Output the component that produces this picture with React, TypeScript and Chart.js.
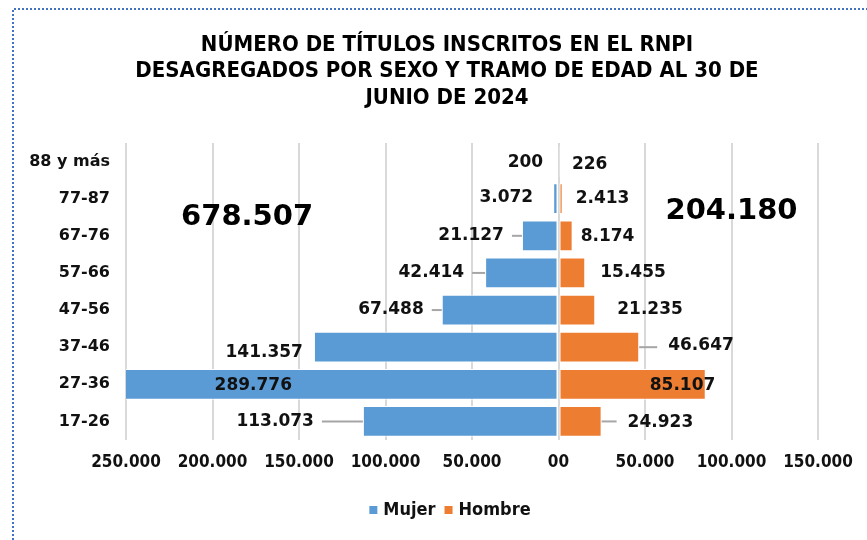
import React, { useEffect, useRef } from "react";
import { Chart, registerables } from "chart.js";

Chart.register(...registerables);

// ---- Data ----
const ageGroups = ["88 y más", "77-87", "67-76", "57-66", "47-56", "37-46", "27-36", "17-26"];
const mujer = [200, 3072, 21127, 42414, 67488, 141357, 289776, 113073];
const hombre = [226, 2413, 8174, 15455, 21235, 46647, 85107, 24923];
const seriesNames = ["Mujer", "Hombre"];
const titleLines = [
  "NÚMERO DE TÍTULOS INSCRITOS EN EL RNPI",
  "DESAGREGADOS POR SEXO Y TRAMO DE EDAD AL 30 DE",
  "JUNIO DE 2024",
];
const xMin = -250000;
const xMax = 150000;
const xStep = 50000;

// ---- Label styling (pixel gaps between bar end and label, vertical nudges, leader lines) ----
const mujerLabelGap = [15, 20, 18, 21, 18, 11, -166, 49];
const mujerLabelDy = [1, -1, 0, 0, 0, 5, 1, 0];
const mujerLeader = [false, false, true, true, true, false, false, true];
const hombreLabelGap = [13, 13, 8, 15, 22, 29, -56, 26];
const hombreLabelDy = [3, 0, 1, 0, 0, -2, 1, 1];
const hombreLeader = [false, false, false, false, false, true, false, true];

const BLUE = "#5B9BD5";
const ORANGE = "#ED7D31";
const COND = "'DejaVu Sans Condensed', 'DejaVu Sans', sans-serif";
const WIDE = "'DejaVu Sans', Verdana, sans-serif";

const fmt = (n: number) => {
  const a = Math.round(Math.abs(n));
  if (a === 0) return "00";
  return String(a).replace(/\B(?=(\d{3})+(?!\d))/g, ".");
};

const sum = (arr: number[]) => arr.reduce((s, v) => s + v, 0);

const framePlugin = {
  id: "frame",
  beforeDraw(chart: any) {
    const ctx = chart.ctx;
    ctx.save();
    // dotted border
    ctx.strokeStyle = "#4472C4";
    ctx.lineWidth = 2;
    ctx.setLineDash([2, 2]);
    ctx.beginPath();
    ctx.moveTo(13, chart.height);
    ctx.lineTo(13, 9);
    ctx.lineTo(chart.width, 9);
    ctx.stroke();
    ctx.setLineDash([]);

    // title
    ctx.fillStyle = "#000";
    ctx.font = `bold 22px ${COND}`;
    ctx.textAlign = "center";
    ctx.textBaseline = "middle";
    titleLines.forEach((t, i) => ctx.fillText(t, 447, 45 + i * 26.5));

    // legend
    const colors = [BLUE, ORANGE];
    ctx.font = `bold 18px ${COND}`;
    const box = 8;
    const gapBoxText = 6;
    const gapItems = 9;
    const widths = seriesNames.map((s) => ctx.measureText(s).width);
    const total =
      widths.reduce((a, w) => a + box + gapBoxText + w, 0) + gapItems * (seriesNames.length - 1);
    let x = 450 - total / 2;
    const y = 510;
    ctx.textAlign = "left";
    seriesNames.forEach((s, i) => {
      ctx.fillStyle = colors[i];
      ctx.fillRect(x, y - box / 2, box, box);
      x += box + gapBoxText;
      ctx.fillStyle = "#111";
      ctx.fillText(s, x, y);
      x += widths[i] + gapItems;
    });
    ctx.restore();
  },
};

const labelsPlugin = {
  id: "barLabels",
  afterDatasetsDraw(chart: any) {
    const ctx = chart.ctx;
    const area = chart.chartArea;
    const xs = chart.scales.x;
    const ys = chart.scales.y;
    ctx.save();
    ctx.font = `bold 17px ${WIDE}`;
    ctx.textBaseline = "middle";
    ctx.fillStyle = "#111";
    ctx.strokeStyle = "#A6A6A6";
    ctx.lineWidth = 2;

    const m = chart.getDatasetMeta(0);
    m.data.forEach((el: any, i: number) => {
      const end = Math.max(el.x, area.left);
      const x = end - mujerLabelGap[i];
      const y = el.y + mujerLabelDy[i];
      ctx.textAlign = "right";
      ctx.fillText(fmt(mujer[i]), x, y);
      if (mujerLeader[i]) {
        ctx.beginPath();
        ctx.moveTo(x + 8, el.y);
        ctx.lineTo(end, el.y);
        ctx.stroke();
      }
    });

    const h = chart.getDatasetMeta(1);
    h.data.forEach((el: any, i: number) => {
      const end = Math.min(el.x, area.right);
      const x = end + hombreLabelGap[i];
      const y = el.y + hombreLabelDy[i];
      ctx.textAlign = "left";
      ctx.fillText(fmt(hombre[i]), x, y);
      if (hombreLeader[i]) {
        ctx.beginPath();
        ctx.moveTo(end, el.y);
        ctx.lineTo(x - 11, el.y);
        ctx.stroke();
      }
    });

    // Totals
    ctx.font = `bold 29px ${WIDE}`;
    ctx.fillStyle = "#000";
    ctx.textAlign = "center";
    ctx.fillText(fmt(sum(mujer)), xs.getPixelForValue(-180000), ys.getPixelForValue(1.5));
    ctx.fillText(fmt(sum(hombre)), xs.getPixelForValue(100000), ys.getPixelForValue(1.35));
    ctx.restore();
  },
};

export default function App() {
  const ref = useRef<HTMLCanvasElement | null>(null);

  useEffect(() => {
    document.body.style.margin = "0";
    const canvas = ref.current;
    if (!canvas) return;
    const chart = new Chart(canvas, {
      type: "bar",
      data: {
        labels: ageGroups,
        datasets: [
          {
            label: seriesNames[0],
            data: mujer.map((v) => -v),
            backgroundColor: BLUE,
            borderColor: "#ffffff",
            borderWidth: 1,
            borderSkipped: false,
            categoryPercentage: 0.9,
            barPercentage: 0.92,
          },
          {
            label: seriesNames[1],
            data: hombre,
            backgroundColor: ORANGE,
            borderColor: "#ffffff",
            borderWidth: 1,
            borderSkipped: false,
            categoryPercentage: 0.9,
            barPercentage: 0.92,
          },
        ],
      },
      options: {
        indexAxis: "y",
        responsive: false,
        animation: false,
        devicePixelRatio: 1,
        layout: { padding: { left: 0, right: 49, top: 143, bottom: 50 } },
        scales: {
          x: {
            stacked: true,
            min: xMin,
            max: xMax,
            border: { display: false },
            grid: { color: "#D9D9D9", lineWidth: 2, drawTicks: false },
            ticks: {
              stepSize: xStep,
              padding: 12,
              color: "#111",
              maxRotation: 0,
              autoSkip: false,
              font: { family: COND, size: 17, weight: "bold" },
              callback: (v: any) => fmt(Number(v)),
            },
            afterFit: (s: any) => {
              s.height = 50;
            },
          },
          y: {
            stacked: true,
            border: { display: false },
            grid: { display: false, drawTicks: false },
            ticks: {
              padding: 16,
              color: "#111",
              font: { family: WIDE, size: 16, weight: "bold" },
            },
            afterFit: (s: any) => {
              s.width = 126;
            },
          },
        },
        plugins: {
          title: { display: false },
          legend: { display: false },
          tooltip: { enabled: false },
        },
      },
      plugins: [framePlugin, labelsPlugin],
    } as any);
    return () => chart.destroy();
  }, []);

  return (
    <div style={{ width: 867, height: 540, position: "relative", background: "#fff" }}>
      <canvas ref={ref} width={867} height={540} style={{ display: "block", width: 867, height: 540 }} />
    </div>
  );
}
